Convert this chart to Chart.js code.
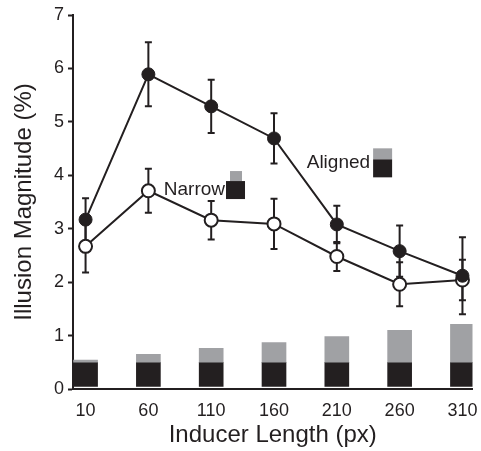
<!DOCTYPE html>
<html lang="en">
<head>
  <meta charset="UTF-8" />
  <title>Illusion Magnitude vs Inducer Length</title>
  <script src="https://cdn.jsdelivr.net/npm/chart.js"></script>
  <style>
    body {
      margin: 0;
      background: #fff;
    }
    #wrap {
      width: 481px;
      height: 451px;
    }
  </style>
</head>
<body>

<div id="wrap"><canvas id="illusionChart" width="481" height="451"></canvas></div>

<script>
const inducerLengths = [10, 60, 110, 160, 210, 260, 310];
const alignedMean = [3.17, 5.89, 5.29, 4.69, 3.08, 2.58, 2.12];
const alignedErr = [0.40, 0.60, 0.50, 0.47, 0.35, 0.48, 0.72];
const narrowMean = [2.67, 3.71, 3.16, 3.09, 2.48, 1.96, 2.04];
const narrowErr = [0.49, 0.41, 0.36, 0.47, 0.27, 0.41, 0.38];
// stimulus bars along the bottom: black base plus grey extension
const barBase = [0.05, 0.05, 0.05, 0.05, 0.05, 0.05, 0.05];
const barMid = [0.5, 0.5, 0.5, 0.5, 0.5, 0.5, 0.5];
const barTop = [0.54, 0.65, 0.76, 0.87, 0.98, 1.10, 1.21];

const INK = "#231f20";
const GREY = "#a0a1a4";
const FONT = "'Liberation Sans', Arial, sans-serif";

const pts = (ys) => inducerLengths.map((x, i) => ({ x: x, y: ys[i] }));
const spans = (lo, hi) => inducerLengths.map((x, i) => ({ x: x, y: [lo[i], hi[i]] }));

// vertical error bars with small caps, drawn under the markers
const errorBars = {
  id: "errorBars",
  beforeDatasetsDraw(chart) {
    const { ctx, scales: { x, y } } = chart;
    ctx.save();
    ctx.strokeStyle = INK;
    ctx.lineWidth = 2;
    [[alignedMean, alignedErr], [narrowMean, narrowErr]].forEach(([m, e]) => {
      inducerLengths.forEach((len, i) => {
        const px = x.getPixelForValue(len);
        const top = y.getPixelForValue(m[i] + e[i]);
        const bot = y.getPixelForValue(m[i] - e[i]);
        ctx.beginPath();
        ctx.moveTo(px, top);
        ctx.lineTo(px, bot);
        ctx.moveTo(px - 3.5, top);
        ctx.lineTo(px + 3.5, top);
        ctx.moveTo(px - 3.5, bot);
        ctx.lineTo(px + 3.5, bot);
        ctx.stroke();
      });
    });
    ctx.restore();
  }
};

// the little "Narrow" / "Aligned" labels with their stimulus icons
const stimLabels = {
  id: "stimLabels",
  afterDraw(chart) {
    const { ctx, scales: { x, y } } = chart;
    ctx.save();
    ctx.font = "19px " + FONT;
    ctx.fillStyle = INK;
    ctx.textAlign = "right";
    ctx.textBaseline = "alphabetic";

    let nx = x.getPixelForValue(121), ny = y.getPixelForValue(3.63);
    ctx.fillText("Narrow", nx, ny);
    ctx.fillStyle = GREY;
    ctx.fillRect(nx + 5, ny - 24, 12, 10);
    ctx.fillStyle = INK;
    ctx.fillRect(nx + 1, ny - 14, 19, 18);

    let ax = x.getPixelForValue(236.5), ay = y.getPixelForValue(4.13);
    ctx.fillText("Aligned", ax, ay);
    ctx.fillStyle = GREY;
    ctx.fillRect(ax + 3, ay - 20, 19, 11);
    ctx.fillStyle = INK;
    ctx.fillRect(ax + 3, ay - 9, 19, 18);
    ctx.restore();
  }
};

new Chart(document.getElementById("illusionChart"), {
  type: "line",
  data: {
    datasets: [
      {
        label: "Aligned",
        data: pts(alignedMean),
        borderColor: INK,
        borderWidth: 2,
        pointRadius: 6.5,
        pointBackgroundColor: INK,
        pointBorderColor: INK,
        pointBorderWidth: 1,
        tension: 0,
        order: 0
      },
      {
        label: "Narrow",
        data: pts(narrowMean),
        borderColor: INK,
        borderWidth: 2,
        pointRadius: 6.5,
        pointBackgroundColor: "#fff",
        pointBorderColor: INK,
        pointBorderWidth: 2,
        tension: 0,
        order: 1
      },
      {
        type: "bar",
        label: "extension",
        data: spans(barMid, barTop),
        backgroundColor: GREY,
        barThickness: 24,
        grouped: false,
        order: 2
      },
      {
        type: "bar",
        label: "base",
        data: spans(barBase, barMid),
        backgroundColor: INK,
        barThickness: 24,
        grouped: false,
        order: 3
      }
    ]
  },
  options: {
    responsive: false,
    animation: false,
    layout: { padding: { top: 15, right: 6, left: 0, bottom: 0 } },
    plugins: {
      legend: { display: false },
      tooltip: { enabled: false }
    },
    scales: {
      x: {
        type: "linear",
        min: 0,
        max: 318,
        offset: false,
        afterBuildTicks: (s) => { s.ticks = inducerLengths.map(v => ({ value: v })); },
        afterFit: (s) => { s.height = 62; },
        grid: { display: false, offset: false },
        border: { display: true, color: INK, width: 2 },
        ticks: {
          autoSkip: false,
          maxRotation: 0,
          padding: 3,
          color: INK,
          font: { family: FONT, size: 18 },
          callback: (v) => v
        },
        title: {
          display: true,
          text: "Inducer Length (px)",
          color: INK,
          font: { family: FONT, size: 24 },
          padding: { top: 0, bottom: 1 }
        }
      },
      y: {
        min: 0,
        max: 7,
        afterFit: (s) => { s.width = 73; },
        grid: { drawOnChartArea: false, drawTicks: true, tickLength: 5, color: INK, tickWidth: 2 },
        border: { display: true, color: INK, width: 2 },
        ticks: {
          stepSize: 1,
          padding: 4,
          color: INK,
          font: { family: FONT, size: 18 }
        },
        title: {
          display: true,
          text: "Illusion Magnitude (%)",
          color: INK,
          font: { family: FONT, size: 24 },
          padding: { top: 10, bottom: 0 }
        }
      }
    }
  },
  plugins: [errorBars, stimLabels]
});
</script>

</body>
</html>
